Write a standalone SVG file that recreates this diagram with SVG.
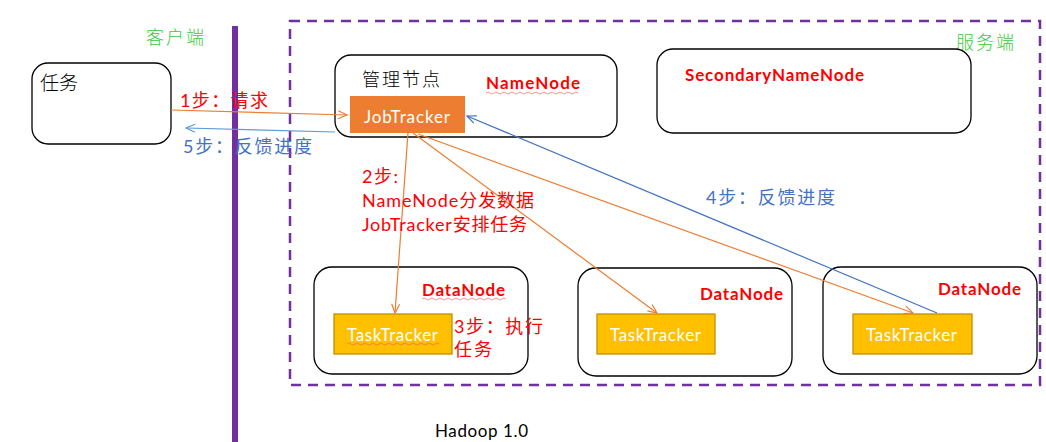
<svg xmlns="http://www.w3.org/2000/svg" width="1046" height="442" viewBox="0 0 1046 442">
<style>
text{font-family:"Lato","Noto Sans","Noto Sans CJK SC",sans-serif;}
.lt{font-weight:300;}
.box{fill:#fff;stroke:#000;stroke-width:1.3;}
.red{fill:#FF0000;}
.redb{fill:#FF0000;font-weight:bold;font-size:17px;}
.blue{fill:#4472C4;}
.green{fill:#3CC83C;}
.tt{fill:#FFC000;stroke:#BF9000;stroke-width:1.3;}
.wt{fill:#fff;font-size:17px;}
.or{stroke:#ED7D31;stroke-width:1.2;fill:none;}
.bl{stroke:#4472C4;stroke-width:1.2;fill:none;}
.bl2{stroke:#5B9BD5;stroke-width:1.2;fill:none;}
.sq{stroke:#FF6060;stroke-width:0.7;fill:none;}
</style>
<defs>
<marker id="ao" markerWidth="12" markerHeight="12" refX="10" refY="5" orient="auto" markerUnits="userSpaceOnUse"><path d="M1,1 L10,5 L1,9" fill="none" stroke="#ED7D31" stroke-width="1.2"/></marker>
<marker id="ab" markerWidth="12" markerHeight="12" refX="10" refY="5" orient="auto" markerUnits="userSpaceOnUse"><path d="M1,1 L10,5 L1,9" fill="none" stroke="#4472C4" stroke-width="1.2"/></marker>
<marker id="ab2" markerWidth="12" markerHeight="12" refX="10" refY="5" orient="auto" markerUnits="userSpaceOnUse"><path d="M1,1 L10,5 L1,9" fill="none" stroke="#5B9BD5" stroke-width="1.2"/></marker>
</defs>
<rect width="1046" height="442" fill="#fff"/>
<rect x="290" y="21" width="750" height="364" fill="none" stroke="#7030A0" stroke-width="2.5" stroke-dasharray="10,7"/>
<rect x="232" y="26" width="6" height="416" fill="#7030A0"/>
<text x="146" y="44" class="green lt" font-size="18" textLength="58">客户端</text>
<text x="956" y="49" class="green lt" font-size="18" textLength="58">服务端</text>

<g id="task"><rect class="box" x="32" y="63" width="139" height="81" rx="16"/>
<text x="40" y="90" class="lt" font-size="19" fill="#000">任务</text></g>

<g id="namenode"><rect class="box" x="335" y="55" width="282" height="82" rx="16"/>
<text x="362" y="86" class="lt" font-size="18" fill="#000" textLength="78">管理节点</text>
<text x="486" y="89" class="redb" textLength="94">NameNode</text>
<path class="sq" d="M486,93 q2,-2 4,0 t4,0 t4,0 t4,0 t4,0 t4,0 t4,0 t4,0 t4,0 t4,0 t4,0 t4,0 t4,0 t4,0 t4,0 t4,0 t4,0 t4,0 t4,0 t4,0 t4,0 t4,0 t4,0"/>
</g>
<g id="jobtracker"><rect x="350" y="96" width="115" height="37" fill="#ED7D31"/>
<text x="364" y="123" class="wt" textLength="86">JobTracker</text>
<path class="sq" d="M364,126 q2,-2 4,0 t4,0 t4,0 t4,0 t4,0 t4,0 t4,0 t4,0 t4,0 t4,0 t4,0 t4,0 t4,0 t4,0 t4,0 t4,0 t4,0 t4,0 t4,0 t4,0 t4,0 t4,0"/>
</g>

<g id="secondary"><rect class="box" x="657" y="49" width="314" height="84" rx="16"/>
<text x="685" y="81" class="redb" textLength="179">SecondaryNameNode</text></g>

<g id="datanode1"><rect class="box" x="314" y="267" width="214" height="107" rx="18"/>
<text x="422" y="296" class="redb" textLength="83">DataNode</text>
<path class="sq" d="M422,299 q2,-2 4,0 t4,0 t4,0 t4,0 t4,0 t4,0 t4,0 t4,0 t4,0 t4,0 t4,0 t4,0 t4,0 t4,0 t4,0 t4,0 t4,0 t4,0 t4,0 t4,0 t4,0"/>
<rect class="tt" x="334" y="314" width="118" height="40"/>
<text x="347" y="341" class="wt" textLength="91">TaskTracker</text>
<path class="sq" d="M347,344 q2,-2 4,0 t4,0 t4,0 t4,0 t4,0 t4,0 t4,0 t4,0 t4,0 t4,0 t4,0 t4,0 t4,0 t4,0 t4,0 t4,0 t4,0 t4,0 t4,0 t4,0 t4,0 t4,0 t4,0"/>
</g>
<g id="datanode2"><rect class="box" x="578" y="268" width="214" height="108" rx="18"/>
<text x="700" y="300" class="redb" textLength="83">DataNode</text>
<rect class="tt" x="597" y="314" width="118" height="40"/>
<text x="610" y="341" class="wt" textLength="91">TaskTracker</text></g>
<g id="datanode3"><rect class="box" x="823" y="267" width="214" height="107" rx="18"/>
<text x="938" y="295" class="redb" textLength="83">DataNode</text>
<rect class="tt" x="853" y="314" width="119" height="40"/>
<text x="866" y="341" class="wt" textLength="91">TaskTracker</text></g>

<g id="connectors">
<line class="or" x1="171" y1="110" x2="347" y2="115" marker-end="url(#ao)"/>
<line class="bl2" x1="335" y1="132" x2="186" y2="128" marker-end="url(#ab2)"/>
<line class="or" x1="408" y1="133" x2="395" y2="313" marker-end="url(#ao)"/>
<line class="or" x1="413" y1="133" x2="657" y2="313" marker-end="url(#ao)"/>
<line class="or" x1="418" y1="134" x2="913" y2="313" marker-end="url(#ao)"/>
<line class="bl" x1="937" y1="313" x2="467" y2="116" marker-end="url(#ab)"/>
</g>

<text x="180" y="107" class="red" font-size="18" textLength="88">1步：请求</text>
<text x="183" y="153" class="blue" font-size="18" textLength="129">5步：反馈进度</text>
<text x="362" y="183" class="red" font-size="18" textLength="36">2步:</text>
<text x="362" y="207" class="red" font-size="18" textLength="172">NameNode分发数据</text>
<text x="362" y="231" class="red" font-size="18" textLength="165">JobTracker安排任务</text>
<text x="706" y="204" class="blue" font-size="18" textLength="129">4步：反馈进度</text>
<text x="454" y="333" class="red" font-size="18" textLength="89">3步：执行</text>
<text x="454" y="356" class="red" font-size="18" textLength="38">任务</text>
<text x="435" y="437" font-size="17" fill="#000" textLength="93">Hadoop 1.0</text>
</svg>
